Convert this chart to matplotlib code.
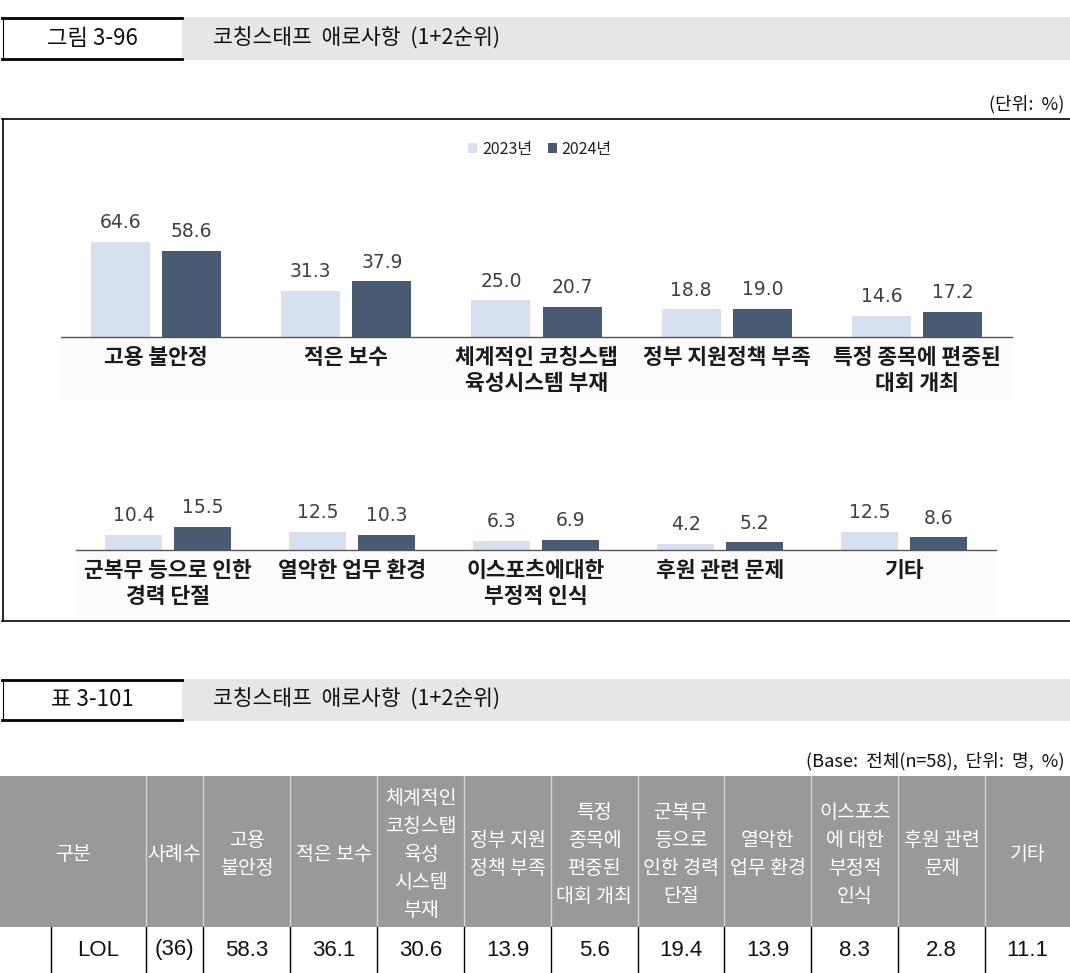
# 코칭스태프 애로사항 (1+2순위) - 그림 3-96 / 표 3-101
import numpy as np
import matplotlib.pyplot as plt
from matplotlib.patches import Rectangle

plt.rcParams['font.family'] = ['Noto Sans CJK KR', 'DejaVu Sans']

# 그래프 데이터
years = ['2023년', '2024년']
cats_top = ['고용 불안정', '적은 보수', '체계적인 코칭스탭\n육성시스템 부재',
            '정부 지원정책 부족', '특정 종목에 편중된\n대회 개최']
cats_bottom = ['군복무 등으로 인한\n경력 단절', '열악한 업무 환경',
               '이스포츠에대한\n부정적 인식', '후원 관련 문제', '기타']
v2023_top = [64.6, 31.3, 25.0, 18.8, 14.6]
v2024_top = [58.6, 37.9, 20.7, 19.0, 17.2]
v2023_bottom = [10.4, 12.5, 6.3, 4.2, 12.5]
v2024_bottom = [15.5, 10.3, 6.9, 5.2, 8.6]

# 표 데이터
table_head = ['구분', '사례수', '고용\n불안정', '적은 보수',
              '체계적인\n코칭스탭\n육성\n시스템\n부재', '정부 지원\n정책 부족',
              '특정\n종목에\n편중된\n대회 개최', '군복무\n등으로\n인한 경력\n단절',
              '열악한\n업무 환경', '이스포츠\n에 대한\n부정적\n인식',
              '후원 관련\n문제', '기타']
table_group = 'LOL'
table_n = '(36)'
table_vals = [58.3, 36.1, 30.6, 13.9, 5.6, 19.4, 13.9, 8.3, 2.8, 11.1]

c_light = '#d6e0ef'
c_dark = '#485b73'

W, H = 1070, 973
fig = plt.figure(figsize=(W / 100, H / 100), dpi=100)
bg = fig.add_axes([0, 0, 1, 1])
bg.set_xlim(0, W)
bg.set_ylim(H, 0)
bg.axis('off')


def px_axes(x0, y0, x1, y1):
    ax = fig.add_axes([x0 / W, 1 - y1 / H, (x1 - x0) / W, (y1 - y0) / H])
    ax.set_facecolor('none')
    return ax


def title_bar(y0, y1, label, title):
    bg.add_patch(Rectangle((182, y0), W - 182, y1 - y0, color='#e6e6e6', lw=0))
    bg.plot([2, 182], [y0 + 1, y0 + 1], color='black', lw=2)
    bg.plot([2, 182], [y1 - 1, y1 - 1], color='black', lw=2)
    bg.plot([2.5, 2.5], [y0, y1], color='black', lw=0.8)
    yc = (y0 + y1) / 2
    bg.text(92, yc, label, fontsize=16, ha='center', va='center', color='#111')
    bg.text(213, yc, title, fontsize=15.5, ha='left', va='center', color='#111')


# 상단 제목
title_bar(17, 60, '그림 3-96', '코칭스태프  애로사항  (1+2순위)')
bg.text(1064, 104, '(단위:  %)', fontsize=13, ha='right', va='center', color='#111')

# 그래프 테두리
bg.plot([2, W], [119, 119], color='black', lw=1.2)
bg.plot([2.5, 2.5], [119, 621], color='black', lw=1.2)
bg.plot([2, W], [621, 621], color='black', lw=1.2)

# 라벨 배경
bg.add_patch(Rectangle((61, 338), 950, 62, color='#fbfbfb', lw=0))
bg.add_patch(Rectangle((76, 552), 920, 64, color='#fbfbfb', lw=0))

scale = 1.47  # px per %


def draw_row(ax, cats, a, b, h_px):
    x = np.arange(len(cats))
    b1 = ax.bar(x - 0.187, a, 0.31, color=c_light, label=years[0])
    b2 = ax.bar(x + 0.187, b, 0.31, color=c_dark, label=years[1])
    for bars in (b1, b2):
        ax.bar_label(bars, fmt='%.1f', padding=7, fontsize=13.5, color='#404040',
                     family='DejaVu Sans')
    ax.set_xlim(-0.5, 4.5)
    ax.set_ylim(0, h_px / scale)
    ax.set_xticks(x, cats, fontsize=15.5, fontweight='bold', color='#1a1a1a',
                  linespacing=1.3)
    ax.tick_params(axis='x', length=0, pad=7)
    ax.set_yticks([])
    for s in ['top', 'right', 'left']:
        ax.spines[s].set_visible(False)
    ax.spines['bottom'].set_color('#555555')
    ax.spines['bottom'].set_linewidth(1)
    return b1, b2


ax1 = px_axes(61, 130, 1012, 337)
h1, h2 = draw_row(ax1, cats_top, v2023_top, v2024_top, 207)
ax2 = px_axes(76, 470, 996, 550)
draw_row(ax2, cats_bottom, v2023_bottom, v2024_bottom, 80)

fig.legend([h1, h2], years, loc='center', bbox_to_anchor=(540 / W, 1 - 149 / H),
           ncol=2, frameon=False, fontsize=11.5, handlelength=0.55, handleheight=0.55,
           handletextpad=0.3, columnspacing=1.0, labelcolor='#222')

# 표 제목
title_bar(679, 721, '표 3-101', '코칭스태프  애로사항  (1+2순위)')
bg.text(1064, 761, '(Base:  전체(n=58),  단위:  명,  %)', fontsize=13,
        ha='right', va='center', color='#111')

# 표
edges = [0, 145.7, 203.3, 290.3, 377, 464, 551, 637.7, 724.3, 811, 898.3, 985, W]
head_top, head_bot, row_bot = 776, 927, 973
bg.add_patch(Rectangle((0, head_top), W, head_bot - head_top, color='#999999', lw=0))
for xe in edges[1:-1]:
    bg.plot([xe, xe], [head_top, head_bot], color='#d4d4d4', lw=1)
    bg.plot([xe, xe], [head_bot, row_bot], color='black', lw=1)
bg.plot([50.7, 50.7], [head_bot, row_bot], color='black', lw=1)

for i, lab in enumerate(table_head):
    xc = (edges[i] + edges[i + 1]) / 2
    bg.text(xc, (head_top + head_bot) / 2 + 3, lab, fontsize=14, color='white',
            ha='center', va='center', linespacing=1.45)

row_y = 950
num_font = ['Liberation Sans', 'DejaVu Sans']
bg.text((50.7 + edges[1]) / 2, row_y, table_group, fontsize=16, family=num_font,
        ha='center', va='center', color='#111')
bg.text((edges[1] + edges[2]) / 2, row_y, table_n, fontsize=16, family=num_font,
        ha='center', va='center', color='#111')
for i, v in enumerate(table_vals):
    xc = (edges[i + 2] + edges[i + 3]) / 2
    bg.text(xc, row_y, f'{v:.1f}', fontsize=16, family=num_font,
            ha='center', va='center', color='#111')

fig.savefig('out.png', dpi=100)
